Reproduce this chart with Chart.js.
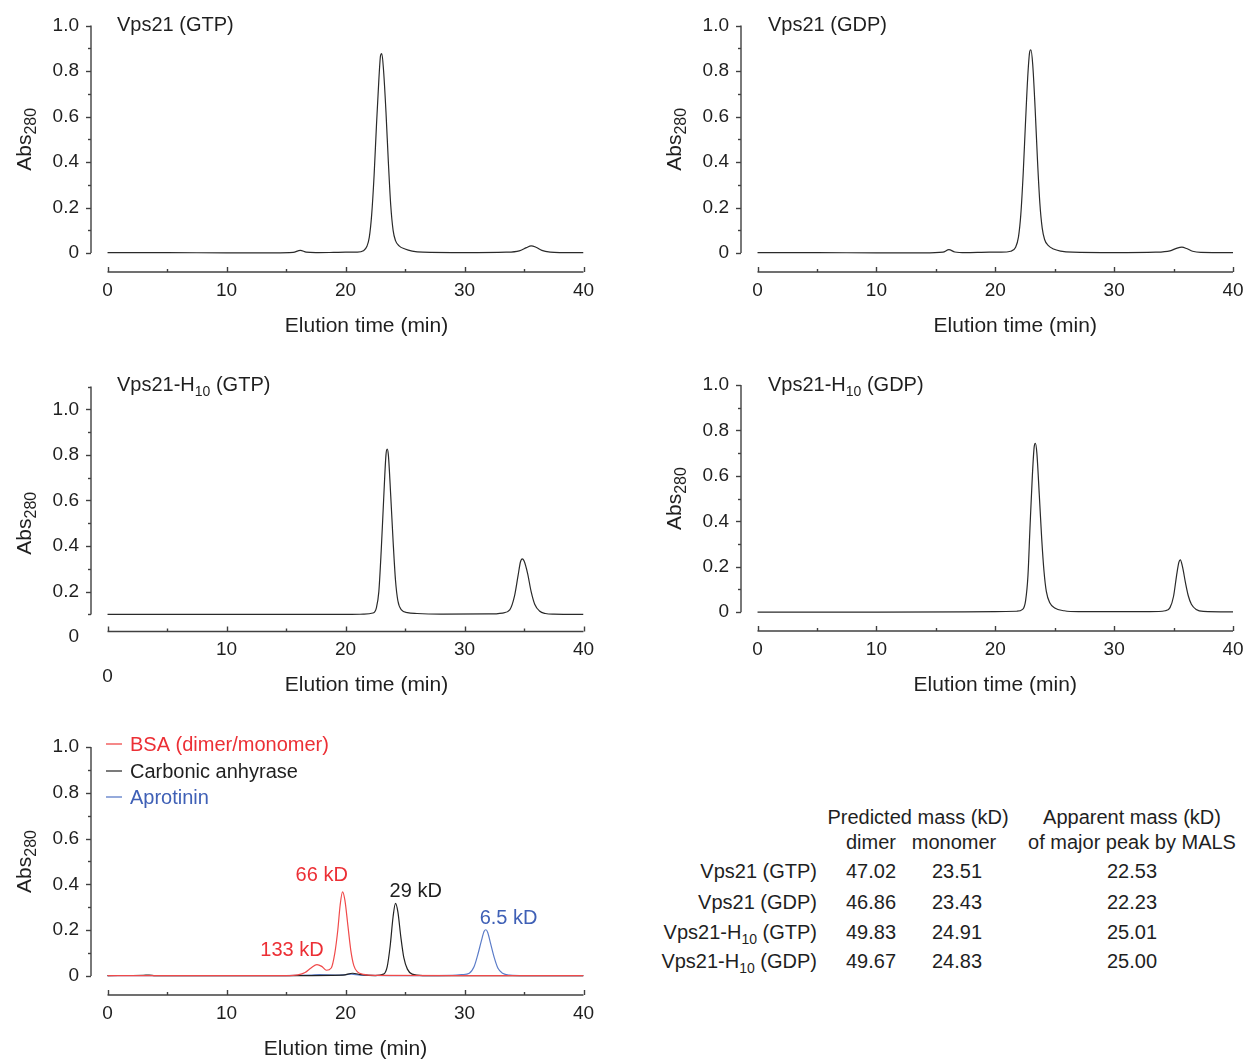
<!DOCTYPE html>
<html><head><meta charset="utf-8">
<script src="https://cdn.jsdelivr.net/npm/chart.js@4/dist/chart.umd.min.js"></script>
<style>
html,body{margin:0;padding:0;background:#fff;}
body{width:1248px;height:1061px;position:relative;overflow:hidden;font-family:"Liberation Sans",Arial,sans-serif;color:#1f1f1f;}
canvas{position:absolute;}
.t{position:absolute;font-size:20px;white-space:nowrap;line-height:1;}
.c{transform:translate(-50%,-50%);}
.r{transform:translate(0,-50%);}
.sb{font-size:14px;position:relative;top:5px;}
</style></head><body>
<script>
// ---------- data ----------
const xTickLabels = [0, 10, 20, 30, 40];
const yTickLabels = [0, 0.2, 0.4, 0.6, 0.8, 1.0];

const vps21GtpTime = [0,5,10,14,15.6,16.2,16.7,17.5,19,20,21,21.5,21.8,22.0,22.2,22.4,22.6,22.8,22.95,23.05,23.2,23.4,23.6,23.8,24.0,24.2,24.5,25,25.6,26.5,30,33.5,34.6,35.2,35.6,36.0,36.5,37.2,38,40];
const vps21GtpAbs  = [0.002,0.002,0.001,0.001,0.003,0.012,0.004,0.002,0.003,0.004,0.004,0.01,0.03,0.07,0.17,0.34,0.56,0.76,0.87,0.876,0.80,0.62,0.40,0.21,0.10,0.055,0.032,0.018,0.009,0.004,0.002,0.004,0.01,0.024,0.032,0.026,0.012,0.004,0.002,0.002];

const vps21GdpTime = [0,5,10,14,15.6,16.1,16.6,17.5,19.5,20.5,21.3,21.7,21.95,22.15,22.35,22.55,22.75,22.9,23.0,23.15,23.35,23.55,23.75,23.95,24.15,24.45,24.9,25.5,26.5,30,33.5,34.7,35.3,35.7,36.1,36.6,37.3,40];
const vps21GdpAbs  = [0.002,0.002,0.001,0.001,0.004,0.015,0.005,0.002,0.004,0.004,0.008,0.025,0.07,0.17,0.35,0.58,0.79,0.885,0.893,0.83,0.64,0.41,0.22,0.11,0.06,0.034,0.018,0.009,0.004,0.002,0.004,0.01,0.022,0.026,0.02,0.008,0.003,0.002];

const vps21H10GtpTime = [0,10,20,21.5,22.3,22.6,22.8,23.0,23.2,23.4,23.5,23.6,23.8,24.0,24.2,24.4,24.7,25.2,26,28,32,33.2,33.8,34.2,34.5,34.7,34.85,35.0,35.3,35.6,35.9,36.3,36.8,37.5,40];
const vps21H10GtpAbs  = [0.1,0.1,0.1,0.101,0.106,0.13,0.2,0.38,0.6,0.8,0.825,0.8,0.62,0.42,0.25,0.16,0.12,0.108,0.104,0.101,0.102,0.106,0.12,0.18,0.27,0.33,0.344,0.335,0.28,0.2,0.145,0.115,0.104,0.101,0.1];

const vps21H10GdpTime = [0,10,20,21.8,22.3,22.55,22.75,22.92,23.12,23.28,23.38,23.5,23.7,23.9,24.1,24.3,24.6,25.0,25.8,27,33,34.3,34.7,35.0,35.25,35.45,35.57,35.75,36.0,36.25,36.5,36.9,37.5,40];
const vps21H10GdpAbs  = [0.0,0.0,0.002,0.004,0.012,0.05,0.16,0.37,0.6,0.73,0.743,0.7,0.52,0.33,0.18,0.09,0.04,0.018,0.006,0.002,0.002,0.006,0.02,0.07,0.16,0.22,0.23,0.2,0.13,0.07,0.035,0.012,0.003,0.001];

const bsaTime = [0,10,15,16,16.6,17.1,17.6,18.0,18.4,18.8,19.1,19.35,19.55,19.75,19.95,20.2,20.45,20.7,21.0,21.5,22.5,30,40];
const bsaAbs  = [0.002,0.002,0.002,0.005,0.015,0.035,0.05,0.042,0.025,0.035,0.1,0.2,0.31,0.367,0.33,0.22,0.11,0.045,0.018,0.007,0.003,0.002,0.002];

const carbonicTime = [0,3,3.5,4,15,19.8,20.6,21.3,22.5,23.2,23.5,23.75,24.0,24.2,24.4,24.65,24.9,25.2,25.6,26.5,40];
const carbonicAbs  = [0.002,0.003,0.004,0.002,0.002,0.004,0.012,0.006,0.002,0.008,0.04,0.13,0.26,0.317,0.28,0.17,0.08,0.03,0.008,0.002,0.002];

const aprotininTime = [0,15,17,17.8,19.5,20.5,21.2,25,29,29.8,30.4,30.8,31.1,31.4,31.65,31.8,31.95,32.2,32.5,32.8,33.2,33.8,35,40];
const aprotininAbs  = [0.002,0.002,0.004,0.006,0.004,0.008,0.004,0.002,0.003,0.006,0.012,0.04,0.09,0.15,0.195,0.202,0.19,0.14,0.08,0.035,0.012,0.004,0.002,0.002];

const standardNames = ['BSA (dimer/monomer)', 'Carbonic anhyrase', 'Aprotinin'];
const peakLabels = ['66 kD', '133 kD', '29 kD', '6.5 kD'];
const peakLabelTime = [18.0, 15.5, 25.9, 33.7];
const peakLabelAbs  = [0.437, 0.112, 0.371, 0.253];

const tableRows     = [['Vps21 (GTP)'], ['Vps21 (GDP)'], ['Vps21-H', '10', ' (GTP)'], ['Vps21-H', '10', ' (GDP)']];
const dimerMass     = ['47.02', '46.86', '49.83', '49.67'];
const monomerMass   = ['23.51', '23.43', '24.91', '24.83'];
const apparentMass  = ['22.53', '22.23', '25.01', '25.00'];

// ---------- styling ----------
const FONT = '"Liberation Sans", Arial, sans-serif';
const TEXT = '#1f1f1f';
const AXIS = '#404040';
const TRACE = '#2a2a2a';
const RED = '#ec2f35', RED_LINE = '#f04a4a';
const BLUE = '#3f60b6', BLUE_LINE = '#5b7cc8';
const BLACK_LINE = '#222';

function pts(t, v) { return t.map((x, i) => ({ x: x, y: v[i] })); }

function drawRich(ctx, parts, x, y, size, subSize, align) {
  let w = 0;
  const widths = parts.map((p, i) => { ctx.font = (i % 2 ? subSize : size) + 'px ' + FONT; const m = ctx.measureText(p).width; w += m; return m; });
  let cx = align === 'center' ? x - w / 2 : x;
  ctx.textAlign = 'left';
  ctx.textBaseline = 'alphabetic';
  parts.forEach((p, i) => {
    ctx.font = (i % 2 ? subSize : size) + 'px ' + FONT;
    ctx.fillText(p, cx, y + (i % 2 ? 5 : 0));
    cx += widths[i];
  });
}

const panels = [
  { canvas: { x: 0, y: 0, w: 640, h: 352 }, area: { l: 91, r: 583.5, t: 25.5, b: 272 }, yMin: -0.083, yMax: 1.0, axisFrom: 0, axisTo: 1.0,
    title: ['Vps21 (GTP)'], titlePos: [117, 31], xTitleDx: 21,
    series: [{ t: vps21GtpTime, v: vps21GtpAbs, c: TRACE }] },
  { canvas: { x: 640, y: 0, w: 608, h: 352 }, area: { l: 741, r: 1233, t: 25.5, b: 272 }, yMin: -0.083, yMax: 1.0, axisFrom: 0, axisTo: 1.0,
    title: ['Vps21 (GDP)'], titlePos: [768, 31], xTitleDx: 20,
    series: [{ t: vps21GdpTime, v: vps21GdpAbs, c: TRACE }] },
  { canvas: { x: 0, y: 352, w: 640, h: 363 }, area: { l: 91, r: 583.5, t: 386.5, b: 631.5 }, yMin: 0.025, yMax: 1.1, axisFrom: 0.1, axisTo: 1.1,
    title: ['Vps21-H', '10', ' (GTP)'], titlePos: [117, 391], xTitleDx: 21, lowZero: true,
    series: [{ t: vps21H10GtpTime, v: vps21H10GtpAbs, c: TRACE }] },
  { canvas: { x: 640, y: 352, w: 608, h: 363 }, area: { l: 741, r: 1233, t: 385, b: 631 }, yMin: -0.083, yMax: 1.0, axisFrom: 0, axisTo: 1.0,
    title: ['Vps21-H', '10', ' (GDP)'], titlePos: [768, 391], xTitleDx: 0,
    series: [{ t: vps21H10GdpTime, v: vps21H10GdpAbs, c: TRACE }] },
  { canvas: { x: 0, y: 715, w: 640, h: 346 }, area: { l: 91, r: 583.5, t: 747, b: 995 }, yMin: -0.083, yMax: 1.0, axisFrom: 0, axisTo: 1.0,
    title: null, xTitleDx: 0, legend: true,
    series: [{ t: bsaTime, v: bsaAbs, c: RED_LINE }, { t: carbonicTime, v: carbonicAbs, c: BLACK_LINE }, { t: aprotininTime, v: aprotininAbs, c: BLUE_LINE }] }
];

const X_MIN = -1.39;
const Y_SCALE_W = 70, X_SCALE_H = 40;

panels.forEach((p) => {
  const cv = document.createElement('canvas');
  cv.width = p.canvas.w; cv.height = p.canvas.h;
  cv.style.left = p.canvas.x + 'px'; cv.style.top = p.canvas.y + 'px';
  document.body.appendChild(cv);
  const ox = p.canvas.x, oy = p.canvas.y;

  const plugin = {
    id: 'panelDecor',
    afterDraw(chart) {
      const ctx = chart.ctx, xs = chart.scales.x, ys = chart.scales.y, ca = chart.chartArea;
      ctx.save();
      ctx.strokeStyle = AXIS; ctx.lineWidth = 1.4; ctx.lineCap = 'butt';
      const yTop = ys.getPixelForValue(p.axisTo), yBot = ys.getPixelForValue(p.axisFrom);
      ctx.beginPath(); ctx.moveTo(ca.left, yTop); ctx.lineTo(ca.left, yBot); ctx.stroke();
      const n = Math.round((p.axisTo - p.axisFrom) * 10);
      for (let i = 0; i <= n; i++) {
        const v = p.axisFrom + i * 0.1;
        const major = Math.round(v * 10) % 2 === 0;
        const py = Math.round(ys.getPixelForValue(v)) + 0.5;
        ctx.beginPath(); ctx.moveTo(ca.left, py); ctx.lineTo(ca.left - (major ? 5 : 3), py); ctx.stroke();
      }
      const x0 = xs.getPixelForValue(0), x40 = xs.getPixelForValue(40);
      ctx.beginPath(); ctx.moveTo(x0, ca.bottom); ctx.lineTo(x40, ca.bottom); ctx.stroke();
      for (let t = 0; t <= 40; t += 5) {
        const px = Math.round(xs.getPixelForValue(t)) + 0.5;
        ctx.beginPath(); ctx.moveTo(px, ca.bottom); ctx.lineTo(px, ca.bottom - (t % 10 === 0 ? 5 : 3)); ctx.stroke();
      }
      ctx.fillStyle = TEXT;
      ctx.font = '21px ' + FONT; ctx.textAlign = 'center'; ctx.textBaseline = 'middle';
      ctx.fillText('Elution time (min)', (x0 + x40) / 2 + p.xTitleDx, ca.bottom + 54);
      if (p.lowZero) {
        ctx.font = '19px ' + FONT;
        ctx.fillText('0', x0, ca.bottom + 45);
      }
      const yc = ys.getPixelForValue(0.5);
      ctx.save();
      ctx.translate(ca.left - 60, yc);
      ctx.rotate(-Math.PI / 2);
      ctx.font = '21px ' + FONT; const wA = ctx.measureText('Abs').width;
      ctx.font = '16px ' + FONT; const wS = ctx.measureText('280').width;
      ctx.textAlign = 'left'; ctx.textBaseline = 'alphabetic';
      ctx.font = '21px ' + FONT; ctx.fillText('Abs', -(wA + wS) / 2, 0);
      ctx.font = '16px ' + FONT; ctx.fillText('280', -(wA + wS) / 2 + wA, 5);
      ctx.restore();
      if (p.title) drawRich(ctx, p.title, p.titlePos[0] - ox, p.titlePos[1] - oy, 20, 14, 'left');
      if (p.legend) {
        const cols = [RED, '#1f1f1f', BLUE];
        const lcols = [RED_LINE, '#333', BLUE_LINE];
        const ly = [744, 771, 797];
        standardNames.forEach((nm, i) => {
          ctx.strokeStyle = lcols[i]; ctx.lineWidth = 1.3;
          ctx.beginPath(); ctx.moveTo(106 - ox, ly[i] - oy); ctx.lineTo(122 - ox, ly[i] - oy); ctx.stroke();
          ctx.fillStyle = cols[i]; ctx.font = '20px ' + FONT; ctx.textAlign = 'left'; ctx.textBaseline = 'middle';
          ctx.fillText(nm, 130 - ox, ly[i] - oy + 1);
        });
        const pcols = [RED, RED, '#1f1f1f', BLUE];
        peakLabels.forEach((lb, i) => {
          ctx.fillStyle = pcols[i]; ctx.font = '20px ' + FONT; ctx.textAlign = 'center'; ctx.textBaseline = 'middle';
          ctx.fillText(lb, xs.getPixelForValue(peakLabelTime[i]), ys.getPixelForValue(peakLabelAbs[i]));
        });
      }
      ctx.restore();
    }
  };

  const xTickFont = { family: FONT, size: 19, lineHeight: 1.73 };
  const yTickFont = { family: FONT, size: 19 };
  new Chart(cv, {
    type: 'line',
    data: {
      datasets: p.series.map(s => ({ data: pts(s.t, s.v), borderColor: s.c, borderWidth: 1.2, pointRadius: 0, fill: false, cubicInterpolationMode: 'monotone' }))
    },
    options: {
      responsive: false, animation: false, events: [],
      layout: { padding: { left: p.area.l - ox - Y_SCALE_W, right: ox + p.canvas.w - p.area.r, top: p.area.t - oy, bottom: oy + p.canvas.h - p.area.b - X_SCALE_H } },
      plugins: { legend: { display: false }, tooltip: { enabled: false } },
      scales: {
        x: {
          type: 'linear', min: X_MIN, max: 40,
          afterBuildTicks: s => { s.ticks = xTickLabels.map(v => ({ value: v })); },
          afterFit: s => { s.height = X_SCALE_H; },
          grid: { display: false, drawTicks: false }, border: { display: false },
          ticks: { font: xTickFont, color: TEXT, padding: 2, maxRotation: 0, autoSkip: false,
            callback: v => (p.lowZero && v === 0) ? '' : String(v) }
        },
        y: {
          type: 'linear', min: p.yMin, max: p.yMax,
          afterBuildTicks: s => { s.ticks = yTickLabels.map(v => ({ value: v })); },
          afterFit: s => { s.width = Y_SCALE_W; },
          grid: { display: false, drawTicks: false }, border: { display: false },
          ticks: { font: yTickFont, color: TEXT, padding: 12, autoSkip: false,
            callback: v => v === 0 ? '0' : Number(v).toFixed(1) }
        }
      }
    },
    plugins: [plugin]
  });
});

// ---------- table ----------
function addText(html, x, y, cls) {
  const d = document.createElement('div');
  d.className = 't ' + cls;
  d.innerHTML = html;
  if (cls === 'r') { d.style.right = (1248 - x) + 'px'; } else { d.style.left = x + 'px'; }
  d.style.top = y + 'px';
  document.body.appendChild(d);
}
addText('Predicted mass (kD)', 918, 817, 'c');
addText('Apparent mass (kD)', 1132, 817, 'c');
addText('dimer', 871, 842, 'c');
addText('monomer', 954, 842, 'c');
addText('of major peak by MALS', 1132, 842, 'c');
const rowY = [871, 902, 932, 961];
tableRows.forEach((parts, i) => {
  const html = parts.map((s, j) => j % 2 ? '<span class="sb">' + s + '</span>' : s).join('');
  addText(html, 817, rowY[i], 'r');
  addText(dimerMass[i], 871, rowY[i], 'c');
  addText(monomerMass[i], 957, rowY[i], 'c');
  addText(apparentMass[i], 1132, rowY[i], 'c');
});
</script>
</body></html>
